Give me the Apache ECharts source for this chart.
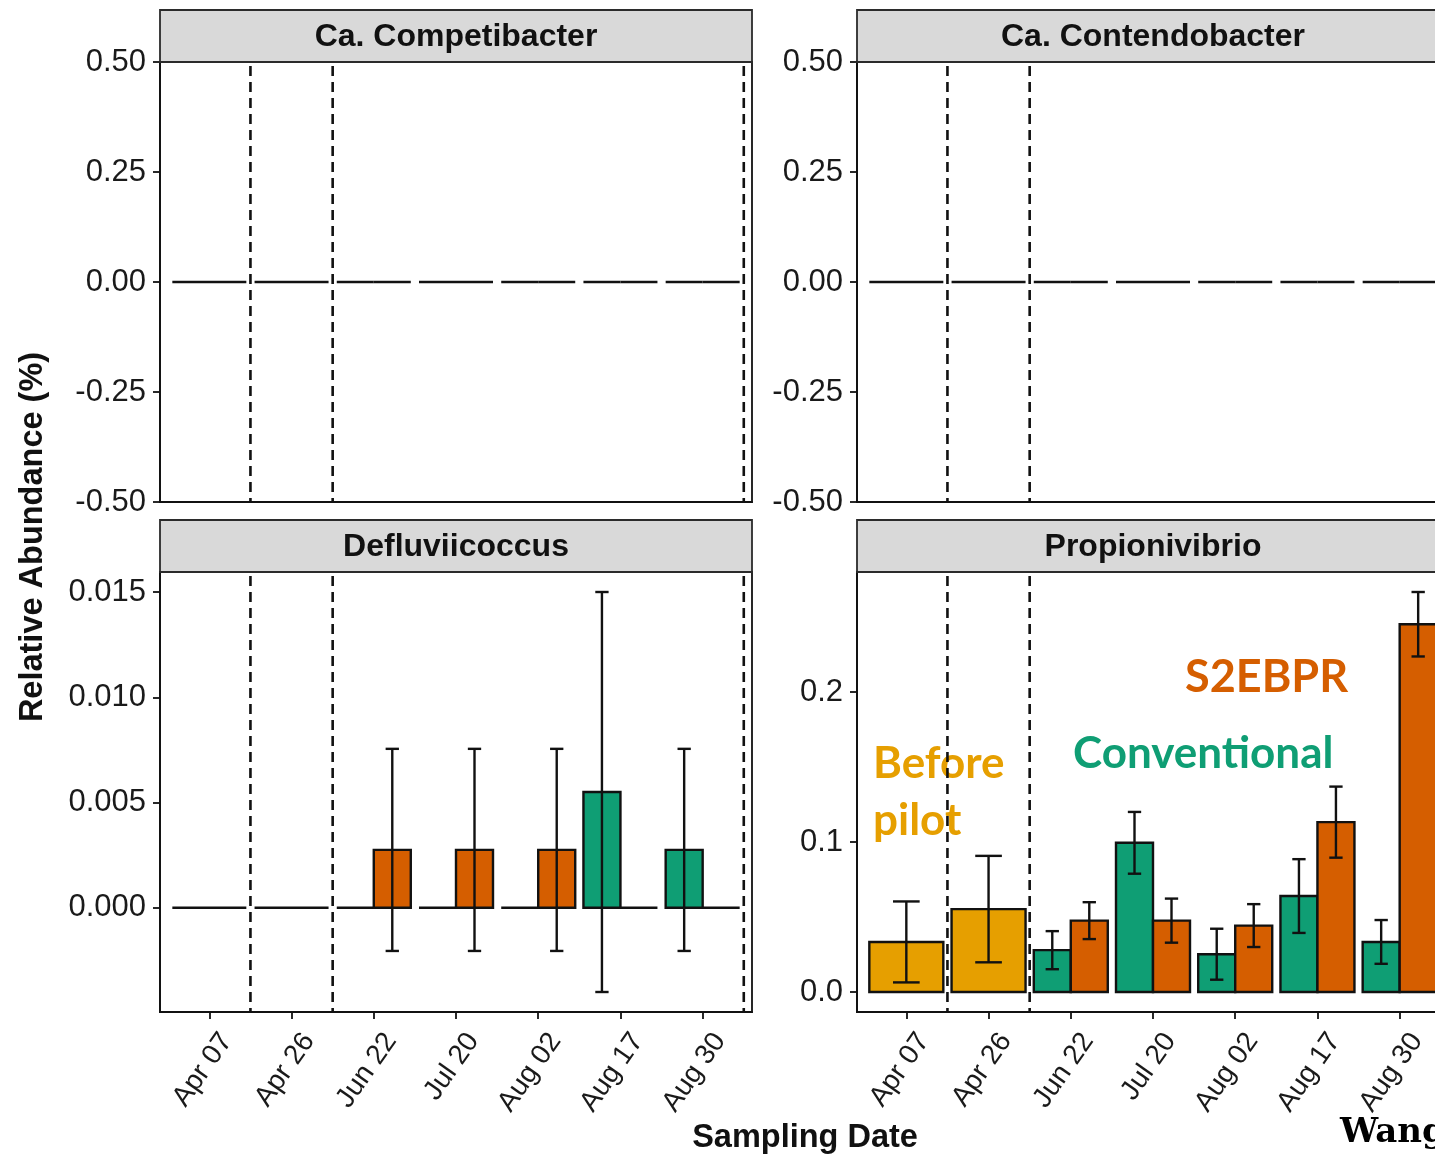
<!DOCTYPE html>
<html>
<head>
<meta charset="utf-8">
<title>Relative abundance of GAO taxa by sampling date</title>
<script src="https://cdn.jsdelivr.net/npm/echarts@6/dist/echarts.min.js"></script>
<style>
  html, body { margin: 0; padding: 0; background: #fff; }
  #chart { width: 1435px; height: 1156px; }
</style>
</head>
<body>
<div id="chart"></div>
<script>
// ---- data -------------------------------------------------------------
const dates = ['Apr 07', 'Apr 26', 'Jun 22', 'Jul 20', 'Aug 02', 'Aug 17', 'Aug 30'];
const phaseBreaks = [1.5, 2.5, 7.5];   // boundaries between operating phases (x units)

// Before pilot: Apr 07, Apr 26; Conventional / S2EBPR: Jun 22 .. Aug 30
const competibacterBefore = [0, 0];
const competibacterBeforeSd = [0, 0];
const competibacterConv = [0, 0, 0, 0, 0];
const competibacterConvSd = [0, 0, 0, 0, 0];
const competibacterS2 = [0, 0, 0, 0, 0];
const competibacterS2Sd = [0, 0, 0, 0, 0];

const contendobacterBefore = [0, 0];
const contendobacterBeforeSd = [0, 0];
const contendobacterConv = [0, 0, 0, 0, 0];
const contendobacterConvSd = [0, 0, 0, 0, 0];
const contendobacterS2 = [0, 0, 0, 0, 0];
const contendobacterS2Sd = [0, 0, 0, 0, 0];

const defluviiBefore = [0, 0];
const defluviiBeforeSd = [0, 0];
const defluviiConv = [0, 0, 0, 0.0055, 0.00275];
const defluviiConvSd = [0, 0, 0, 0.0095, 0.0048];
const defluviiS2 = [0.00275, 0.00275, 0.00275, 0, 0];
const defluviiS2Sd = [0.0048, 0.0048, 0.0048, 0, 0];

const propioBefore = [0.0334, 0.0553];
const propioBeforeSd = [0.027, 0.0355];
const propioConv = [0.0279, 0.0995, 0.0252, 0.064, 0.0334];
const propioConvSd = [0.0127, 0.0206, 0.017, 0.0246, 0.0146];
const propioS2 = [0.0476, 0.0476, 0.0443, 0.1133, 0.2453];
const propioS2Sd = [0.0123, 0.0147, 0.0143, 0.0237, 0.0215];

const yTicksTop = [-0.5, -0.25, 0, 0.25, 0.5];
const yTicksDefluvii = [0, 0.005, 0.010, 0.015];
const yTicksPropio = [0, 0.1, 0.2];

// ---- styling ----------------------------------------------------------
const COLORS = ['#e69f00', '#0f9e74', '#d55e00'];   // before pilot, conventional, S2EBPR
const INK = '#111111';
const SANS = '"Liberation Sans", Arial, Helvetica, sans-serif';
const FULL_W = 0.9, DODGE_W = 0.45;

// ---- helpers ----------------------------------------------------------
function buildBars(before, beforeSd, conv, convSd, s2, s2Sd) {
  const bars = [], errs = [];
  before.forEach((v, i) => {
    const x = i + 1;
    bars.push([x, v, FULL_W, 0]);
    errs.push([x, v - beforeSd[i], v + beforeSd[i], FULL_W * 0.36]);
  });
  conv.forEach((v, i) => {
    const x = i + 3 - DODGE_W / 2;
    bars.push([x, v, DODGE_W, 1]);
    errs.push([x, v - convSd[i], v + convSd[i], DODGE_W * 0.36]);
  });
  s2.forEach((v, i) => {
    const x = i + 3 + DODGE_W / 2;
    bars.push([x, v, DODGE_W, 2]);
    errs.push([x, v - s2Sd[i], v + s2Sd[i], DODGE_W * 0.36]);
  });
  return { bars, errs };
}

function yRange(errs) {
  let lo = 0, hi = 0;
  errs.forEach(e => { lo = Math.min(lo, e[1]); hi = Math.max(hi, e[2]); });
  if (hi - lo === 0) return [-0.5, 0.5];
  const pad = (hi - lo) * 0.05;
  return [lo - pad, hi + pad];
}

function renderBar(params, api) {
  const x = api.value(0), v = api.value(1), w = api.value(2);
  const p0 = api.coord([x - w / 2, 0]);
  const p1 = api.coord([x + w / 2, v]);
  if (v === 0) {
    return { type: 'line', shape: { x1: p0[0], y1: p0[1], x2: p1[0], y2: p0[1] },
             style: { stroke: INK, lineWidth: 2.4 } };
  }
  return {
    type: 'rect',
    shape: { x: p0[0], y: Math.min(p0[1], p1[1]), width: p1[0] - p0[0], height: Math.abs(p1[1] - p0[1]) },
    style: { fill: COLORS[api.value(3)], stroke: INK, lineWidth: 2.4 }
  };
}

function renderErr(params, api) {
  const x = api.value(0), lo = api.value(1), hi = api.value(2), cw = api.value(3);
  if (hi - lo === 0) return null;
  const a = api.coord([x, lo]), b = api.coord([x, hi]);
  const l = api.coord([x - cw / 2, lo])[0], r = api.coord([x + cw / 2, lo])[0];
  const st = { stroke: INK, lineWidth: 2.4 };
  return {
    type: 'group',
    children: [
      { type: 'line', shape: { x1: a[0], y1: a[1], x2: b[0], y2: b[1] }, style: st },
      { type: 'line', shape: { x1: l, y1: a[1], x2: r, y2: a[1] }, style: st },
      { type: 'line', shape: { x1: l, y1: b[1], x2: r, y2: b[1] }, style: st }
    ]
  };
}

function renderBreak(params, api) {
  const cs = params.coordSys;
  const x = api.coord([api.value(0), 0])[0];
  return { type: 'line', shape: { x1: x, y1: cs.y + 4, x2: x, y2: cs.y + cs.height },
           style: { stroke: INK, lineWidth: 2.6, lineDash: [10, 6] } };
}

// ---- panels -----------------------------------------------------------
const panels = [
  { name: 'Ca. Competibacter', left: 160, top: 62, bottomRow: false, ticks: yTicksTop, digits: 2,
    d: buildBars(competibacterBefore, competibacterBeforeSd, competibacterConv, competibacterConvSd, competibacterS2, competibacterS2Sd) },
  { name: 'Ca. Contendobacter', left: 857, top: 62, bottomRow: false, ticks: yTicksTop, digits: 2,
    d: buildBars(contendobacterBefore, contendobacterBeforeSd, contendobacterConv, contendobacterConvSd, contendobacterS2, contendobacterS2Sd) },
  { name: 'Defluviicoccus', left: 160, top: 572, bottomRow: true, ticks: yTicksDefluvii, digits: 3,
    d: buildBars(defluviiBefore, defluviiBeforeSd, defluviiConv, defluviiConvSd, defluviiS2, defluviiS2Sd) },
  { name: 'Propionivibrio', left: 857, top: 572, bottomRow: true, ticks: yTicksPropio, digits: 1,
    d: buildBars(propioBefore, propioBeforeSd, propioConv, propioConvSd, propioS2, propioS2Sd) }
];
const PANEL_W = 592, PANEL_H = 440, STRIP_H = 52;
const xTickValues = dates.map((_, i) => i + 1);

const grid = [], xAxis = [], yAxis = [], series = [], graphic = [];

panels.forEach((p, k) => {
  grid.push({ left: p.left, top: p.top, width: PANEL_W, height: PANEL_H, show: true,
              outerBoundsMode: 'none', containLabel: false,
              backgroundColor: '#ffffff', borderColor: INK, borderWidth: 1.8 });
  xAxis.push({
    type: 'value', gridIndex: k, min: 0.4, max: 7.6, splitLine: { show: false },
    axisLine: { show: true, onZero: false, lineStyle: { color: INK, width: 1.8 } },
    axisTick: { show: p.bottomRow, customValues: xTickValues, length: 7, lineStyle: { color: INK, width: 1.8 } },
    axisLabel: {
      show: p.bottomRow, customValues: xTickValues, rotate: 55, margin: 12,
      verticalAlign: 'top', padding: [7, 0, 0, 0],
      fontFamily: SANS, fontSize: 28, color: '#1a1a1a',
      formatter: v => dates[Math.round(v) - 1]
    }
  });
  const [ymin, ymax] = yRange(p.d.errs);
  yAxis.push({
    type: 'value', gridIndex: k, min: ymin, max: ymax, splitLine: { show: false },
    axisLine: { show: true, onZero: false, lineStyle: { color: INK, width: 1.8 } },
    axisTick: { show: true, customValues: p.ticks, length: 7, lineStyle: { color: INK, width: 1.8 } },
    axisLabel: { customValues: p.ticks, margin: 14, fontFamily: SANS, fontSize: 31, color: '#1a1a1a',
                 formatter: v => v.toFixed(p.digits) }
  });
  series.push({
    type: 'custom', xAxisIndex: k, yAxisIndex: k, renderItem: renderBar,
    encode: { x: 0, y: 1 }, data: p.d.bars, z: 2, silent: true
  });
  series.push({
    type: 'custom', xAxisIndex: k, yAxisIndex: k, renderItem: renderErr,
    encode: { x: 0, y: [1, 2] }, data: p.d.errs, z: 3, silent: true
  });
  series.push({
    type: 'custom', xAxisIndex: k, yAxisIndex: k, renderItem: renderBreak,
    encode: { x: 0, y: 1 }, data: phaseBreaks.map(b => [b, 0]), z: 4, silent: true
  });
  // facet strip
  graphic.push({
    type: 'rect', z: 5,
    shape: { x: p.left, y: p.top - STRIP_H, width: PANEL_W, height: STRIP_H },
    style: { fill: '#d9d9d9', stroke: '#2b2b2b', lineWidth: 1.8 }
  });
  graphic.push({
    type: 'text', z: 6, x: p.left + PANEL_W / 2, y: p.top - STRIP_H / 2 + 1,
    style: { text: p.name, fontFamily: SANS, fontWeight: 'bold', fontSize: 32, fill: INK,
             align: 'center', verticalAlign: 'middle' }
  });
});

// axis titles
graphic.push({
  type: 'text', x: 33, y: 537, rotation: Math.PI / 2,
  style: { text: 'Relative Abundance (%)', fontFamily: SANS, fontWeight: 'bold', fontSize: 32.5, fill: INK,
           align: 'center', verticalAlign: 'middle' }
});
graphic.push({
  type: 'text', x: 805, y: 1138,
  style: { text: 'Sampling Date', fontFamily: SANS, fontWeight: 'bold', fontSize: 32.5, fill: INK,
           align: 'center', verticalAlign: 'middle' }
});

// phase annotations
const NOTE_FONT = 'Lato, "Open Sans", sans-serif';
const note = (text, x, y, size, fill) => ({ type: 'text', z: 1, x, y,
  style: { text, fontFamily: NOTE_FONT, fontWeight: 'bold', fontSize: size, fill, verticalAlign: 'middle' } });
graphic.push(note('Before', 873, 764, 44, '#e69f00'));
graphic.push(note('pilot', 873, 821, 44, '#e69f00'));
graphic.push(note('Conventional', 1073, 754, 44, '#0f9e74'));
graphic.push(note('S2EBPR', 1185, 677, 45, '#d55e00'));

// source credit
graphic.push({ type: 'text', x: 1340, y: 1133,
  style: { text: 'Wang et al.', fontFamily: '"DejaVu Serif", "Liberation Serif", serif', fontWeight: 'bold',
           fontSize: 34, fill: '#000', verticalAlign: 'middle' } });

const chart = echarts.init(document.getElementById('chart'), null, { renderer: 'canvas' });
chart.setOption({
  animation: false,
  backgroundColor: '#ffffff',
  grid, xAxis, yAxis, series, graphic
});
</script>
</body>
</html>
